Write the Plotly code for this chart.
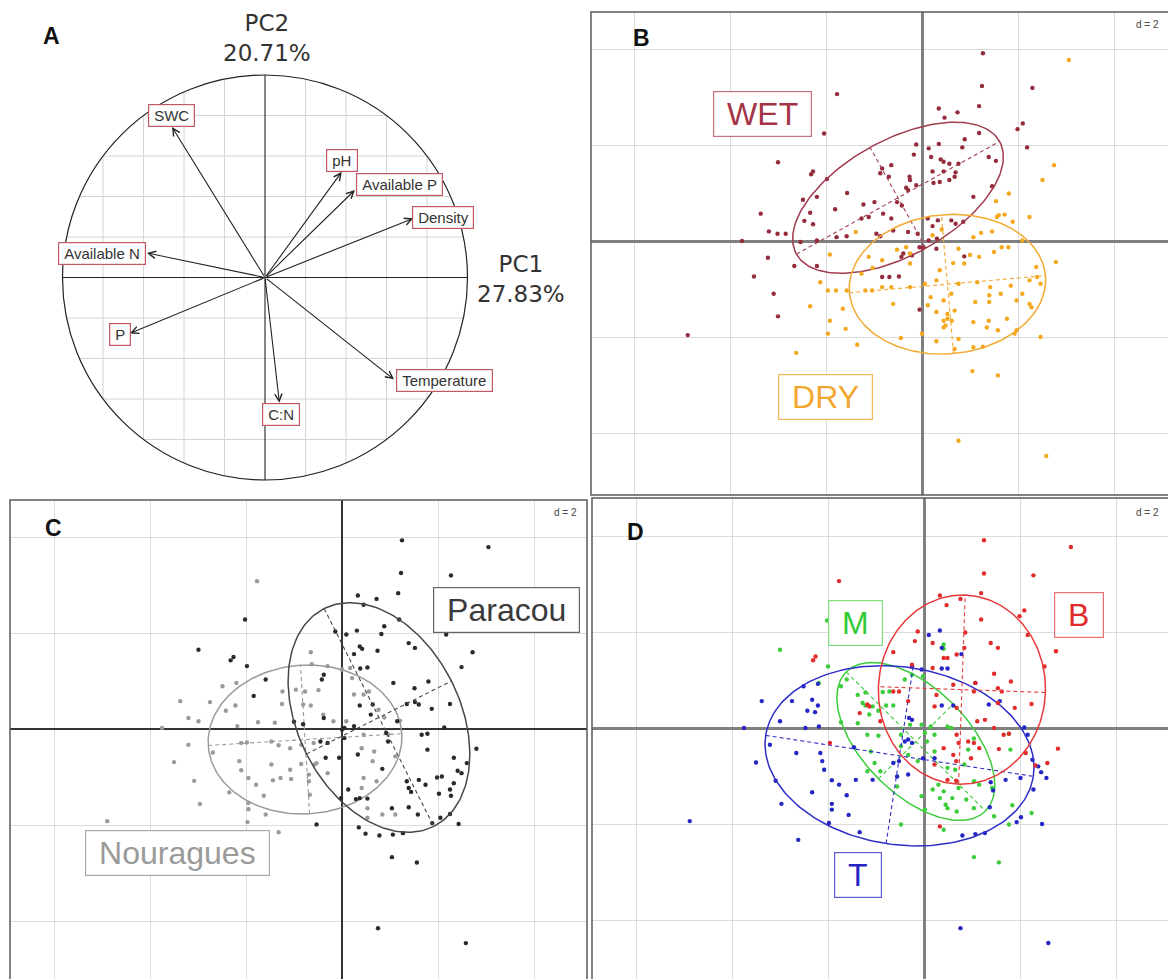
import numpy as np
import plotly.graph_objects as go

W, H = 1168, 979

# ---------------- Panel A : correlation circle ----------------
var_names = ["SWC", "pH", "Available P", "Density", "Available N", "P", "Temperature", "C:N"]
arrow_x = [-0.459, 0.379, 0.444, 0.732, -0.583, -0.667, 0.637, 0.071]
arrow_y = [0.743, 0.522, 0.432, 0.292, 0.121, -0.276, -0.503, -0.618]
label_x = [-0.462, 0.378, 0.662, 0.881, -0.805, -0.716, 0.884, 0.077]
label_y = [0.802, 0.580, 0.457, 0.294, 0.119, -0.279, -0.509, -0.677]
pc1_text = "PC1<br>27.83%"
pc2_text = "PC2<br>20.71%"

# ---------------- Panel B : season ----------------
wet_x = [1.27,-1.77,1.25,2.30,0.35,0.74,1.19,0.47,2.10,1.99,
         -2.04,1.19,0.89,2.19,-0.12,0.14,0.35,0.84,0.19,0.39,
         0.45,0.57,0.76,1.39,1.54,-0.17,-3.00,-2.27,-2.31,-1.98,
         -0.64,-0.83,-0.87,-0.69,-0.26,-0.12,-0.33,-0.29,-0.25,0.22,
         0.45,0.57,0.37,0.24,0.70,0.68,1.07,1.46,-1.56,-2.19,
         -2.48,-1.22,-0.99,-0.52,-0.42,-0.81,-0.64,-1.11,-1.26,-1.81,
         -2.33,-2.45,-2.27,-3.36,-3.19,-3.01,-2.84,-2.19,-2.53,-1.78,
         -1.57,-0.95,-0.87,-0.60,-0.29,-0.09,0.12,0.33,0.22,0.61,
         0.70,0.86,0.31,0.14,-0.05,0.02,0.30,-0.39,-0.21,-0.43,
         0.88,-3.21,-2.66,-2.19,-3.50,-0.83,-0.68,-0.48,-3.09,-3.00,
         -4.88,-0.05,-3.75]
wet_y = [3.91,3.06,3.23,3.19,2.76,2.68,2.81,2.57,2.45,2.33,
         2.24,2.25,2.12,1.95,2.01,1.93,2.02,1.95,1.75,1.70,
         1.65,1.61,1.61,1.75,1.67,1.80,1.64,1.45,1.39,1.29,
         1.58,1.51,1.41,1.34,1.34,1.16,1.11,1.06,1.27,1.45,
         1.45,1.27,1.23,1.21,1.43,1.34,0.92,1.14,1.00,0.92,
         0.86,0.76,0.81,0.81,0.74,0.57,0.47,0.50,0.47,0.66,
         0.59,0.42,0.35,0.57,0.20,0.15,0.15,0.01,-0.02,0.08,
         0.10,0.15,0.10,0.22,0.19,0.15,0.47,0.43,0.31,0.43,
         0.36,0.40,0.05,0.01,-0.13,-0.14,-0.16,-0.26,-0.30,-0.33,
         -0.32,-0.35,-0.52,-0.52,-0.74,-0.75,-0.75,-0.74,-1.10,-1.57,
         -1.96,-1.43,0.00]
dry_x = [3.06,2.75,2.51,1.81,1.54,1.56,2.24,1.89,1.72,1.60,
         0.41,0.22,1.07,1.23,1.46,2.09,1.66,1.80,1.50,1.00,
         1.19,0.76,0.65,0.88,0.37,-0.25,-0.52,-1.11,-0.83,-1.03,
         -1.26,-1.38,-1.92,-2.12,-1.96,-1.79,-1.57,-1.18,-1.04,-0.83,
         -0.64,-0.25,0.06,0.30,0.76,1.15,1.42,1.85,2.24,2.40,
         2.47,2.79,2.38,2.09,1.97,1.64,1.40,1.40,1.11,0.61,
         0.45,0.18,0.12,0.30,0.53,0.45,0.68,0.62,0.49,0.53,
         1.07,1.39,1.58,1.77,1.93,2.24,2.28,2.47,1.97,1.07,
         0.68,1.27,0.76,0.30,0.00,-0.44,-0.60,-1.35,-1.59,-1.96,
         -1.92,-2.33,-1.65,-2.62,1.05,1.58,0.76,2.59,-0.25,0.45,
         -0.33,1.35]
dry_y = [3.77,1.58,1.27,0.99,0.83,0.50,0.50,0.40,0.55,0.54,
         0.24,0.12,0.08,0.17,0.20,0.01,-0.13,-0.13,-0.23,-0.29,
         -0.33,-0.16,-0.46,-0.47,-0.61,-0.47,-0.18,-0.33,-0.40,-0.56,
         -0.68,0.19,-0.28,-0.86,-1.03,-1.03,-1.03,-1.03,-1.03,-0.96,
         -0.96,-0.96,-0.89,-0.82,-0.89,-0.86,-0.96,-0.93,-0.82,-0.75,
         -0.89,-0.44,-0.54,-1.10,-1.24,-1.10,-1.13,-1.27,-1.27,-1.10,
         -1.24,-1.17,-1.34,-1.48,-1.52,-1.66,-1.45,-1.66,-1.76,-1.62,
         -1.69,-1.66,-1.86,-1.62,-1.93,-1.31,-1.38,-2.00,-1.86,-2.21,
         -2.25,-2.20,-2.04,-2.09,-1.93,-2.02,-1.31,-2.16,-1.83,-1.93,
         -1.66,-1.36,-1.41,-2.33,-2.71,-2.80,-4.16,-4.48,-0.26,-1.80,
         -0.13,-1.80]

# ---------------- Panel C : site ----------------
par_x = [1.25,3.05,1.23,2.27,1.17,0.33,0.72,0.45,1.19,0.88,
         2.17,-0.14,0.31,0.09,0.82,1.39,1.52,0.37,0.42,0.74,
         2.72,2.49,0.25,0.38,0.53,-0.42,1.07,1.80,1.51,2.25,
         1.35,1.52,1.60,1.87,0.37,0.64,0.60,-0.38,-1.00,-0.81,
         -1.59,-1.84,-2.02,-2.99,-2.32,-1.98,-2.26,0.25,0.00,0.05,
         2.13,1.66,1.78,0.92,1.15,0.96,1.78,2.80,2.33,2.60,
         2.41,2.49,1.98,2.33,2.08,1.60,1.35,1.39,1.44,1.74,
         2.02,2.25,2.27,0.84,0.13,0.37,0.53,0.29,1.04,1.39,
         1.58,1.88,2.05,2.25,2.43,1.27,1.06,0.78,0.49,0.35,
         -0.53,1.04,1.56,0.75,2.58,-0.30,-0.45,-0.34,-0.06,-0.02,
         -0.38,0.33,0.05]
par_y = [3.93,3.79,3.25,3.20,2.83,2.78,2.71,2.59,2.28,2.14,
         1.97,2.03,2.05,1.97,1.98,1.79,1.69,1.72,1.67,1.63,
         1.60,1.29,1.56,1.26,1.28,1.03,0.96,0.99,0.85,0.52,
         0.52,0.56,0.51,0.42,0.49,0.51,0.30,0.23,0.15,0.10,
         1.03,0.69,2.28,1.65,1.43,1.31,1.50,0.06,-0.01,0.02,
         0.03,-0.12,-0.10,-0.08,0.16,-0.26,-0.43,-0.41,-0.60,-0.71,
         -0.87,-0.92,-1.01,-1.13,-0.99,-1.06,-1.09,-1.23,-1.31,-1.16,
         -1.35,-1.26,-1.39,-0.83,-1.26,-1.44,-1.45,-1.46,-1.65,-1.63,
         -1.78,-1.96,-1.85,-1.77,-1.98,-2.17,-2.20,-2.22,-2.18,-2.05,
         -1.99,-2.67,-2.78,-4.15,-4.46,-0.29,-0.26,-0.60,-0.60,-1.44,
         1.13,-0.53,-0.19]
nou_x = [-1.77,-0.65,-0.63,-0.30,0.00,0.17,0.21,-2.49,-2.20,-1.24,
         -0.96,-0.77,-0.49,-2.75,-2.42,-2.22,-1.25,-0.81,-0.65,-3.37,
         -3.20,-2.99,-2.18,-1.75,-1.40,-0.39,-0.18,0.09,0.25,0.45,
         0.56,0.76,0.88,1.21,-3.75,-2.69,-3.20,-2.10,-1.98,-1.47,
         -1.32,-1.08,-0.85,-0.59,0.41,0.45,0.96,-3.50,-2.14,-2.10,
         -1.47,-1.08,-1.28,-0.85,-0.57,-1.95,-1.79,-1.44,-1.06,-0.69,
         -0.53,0.64,0.67,1.11,-3.08,-2.35,-1.63,-2.96,-1.95,-1.95,
         -1.59,-1.97,-1.32,-4.89,-0.69,-0.67,-0.30,0.45,0.72,0.53,
         0.84,1.11,0.41,0.53]
nou_y = [3.08,1.60,1.35,1.31,1.24,1.27,1.06,0.89,0.96,0.78,
         0.82,0.78,0.81,0.56,0.38,0.49,0.52,0.51,0.49,0.58,
         0.23,0.16,0.06,0.14,0.13,0.30,0.16,0.16,0.72,0.72,
         0.78,0.40,0.24,0.17,0.02,-0.49,-0.33,-0.29,-0.28,-0.26,
         -0.34,-0.40,-0.33,-0.29,-0.40,-0.12,-0.12,-0.69,-0.67,-0.86,
         -0.74,-0.85,-1.02,-0.73,-0.74,-1.02,-1.16,-1.07,-1.04,-0.95,
         -0.71,-0.67,-0.47,-0.57,-1.08,-1.32,-1.39,-1.56,-1.54,-1.67,
         -1.78,-1.94,-2.15,-1.92,-1.09,-1.37,-0.92,-1.02,-1.09,-1.65,
         -1.78,-1.78,-1.23,-1.85]

# ---------------- Panel D : B / M / T ----------------
b_x = [1.25,3.06,-1.77,1.25,2.28,0.33,0.76,1.19,0.47,2.09,
       1.99,1.19,0.86,2.16,-0.13,-0.19,0.18,1.39,1.54,0.84,
       0.41,0.49,0.68,2.75,2.51,-2.26,-2.31,-0.64,-0.25,0.18,
       1.46,1.81,1.07,1.54,1.62,2.24,1.89,1.54,1.04,0.61,
       -0.64,-0.52,-1.34,-1.18,-1.14,-0.91,0.26,0.22,0.68,1.11,
       1.27,1.46,1.66,1.77,0.68,0.92,1.04,1.15,0.72,0.41,
       0.61,0.67,0.98,0.22,2.32,2.57,2.79,0.49,0.67,-1.96,
       0.33,2.12,1.56,-0.33]
b_y = [3.91,3.77,3.06,3.22,3.18,2.76,2.69,2.81,2.56,2.45,
       2.33,2.26,1.99,1.94,2.01,1.81,1.77,1.77,1.67,1.67,
       1.46,1.46,1.53,1.60,1.28,1.49,1.41,1.58,1.32,1.25,
       1.13,0.97,0.94,0.83,0.76,0.50,0.42,0.52,0.76,0.90,
       0.76,0.76,0.31,0.49,0.45,0.14,0.69,0.45,0.42,0.14,
       0.17,0.00,-0.14,-0.12,-0.14,-0.28,-0.31,-0.42,-0.31,-0.42,
       -0.56,-0.69,-0.63,-0.76,-0.78,-0.73,-0.43,-1.08,-1.10,-0.31,
       -2.05,-0.52,-0.44,0.56]
m_x = [-2.02,-3.00,-2.00,-2.19,-1.61,-1.73,-1.38,-1.22,-0.86,-0.72,
       -0.40,-0.25,-0.02,0.41,0.41,-1.22,-1.07,-0.79,-0.64,-0.95,
       -1.28,-1.14,-1.73,-1.38,-1.18,-0.95,-0.48,-0.29,-0.05,0.02,
       0.06,0.14,0.49,0.22,-0.48,-0.33,-0.13,0.22,0.57,0.92,
       1.04,0.84,1.77,1.80,1.42,1.15,1.04,0.65,0.49,0.30,
       0.18,0.41,0.72,0.33,0.49,0.45,0.59,0.88,1.04,0.68,
       -0.05,0.02,0.41,1.46,1.84,2.24,1.77,1.04,1.56,-0.48,
       -0.56,-0.91,-1.18,-1.03,-1.11]
m_y = [2.24,1.63,1.28,0.94,1.01,0.87,0.69,0.74,0.75,0.76,
       1.01,1.11,1.08,1.74,1.65,0.47,0.45,0.47,0.47,0.36,
       0.52,0.28,0.12,0.10,-0.14,-0.16,-0.14,0.07,0.07,-0.10,
       -0.28,0.03,0.03,-0.14,-0.38,-0.56,-0.69,-0.49,0.00,-0.45,
       -0.22,-0.76,-0.12,-0.45,-1.25,-1.18,-1.11,-0.87,-0.83,-1.18,
       -1.28,-1.32,-1.25,-1.46,-1.67,-1.60,-1.46,-1.49,-1.67,-1.74,
       -1.42,-1.70,-2.12,-1.84,-1.61,-1.77,-2.01,-2.69,-2.80,-2.01,
       -1.22,-0.90,-0.90,-0.73,-0.49]
t_x = [0.33,0.10,0.37,0.78,0.37,0.49,-0.25,-0.05,-2.51,-2.21,
       -3.38,-2.75,-2.33,-2.43,-2.27,-2.21,-3.00,-2.47,-2.19,-3.75,
       -0.31,-0.25,0.37,0.61,1.07,1.35,1.58,2.09,2.16,-0.40,
       -0.33,-0.25,-3.21,-2.66,-2.16,-2.12,-2.08,-3.50,-1.46,-3.09,
       -1.92,-1.77,-1.42,-1.07,-0.56,-0.33,-2.33,-1.61,-2.97,-1.92,
       -1.92,-1.57,-1.98,-1.34,-2.62,-4.88,1.37,0.80,1.07,1.27,
       1.93,2.02,2.46,2.28,2.38,2.44,2.55,2.01,1.70,1.39,
       1.44,2.26,0.76,2.59,-0.52,-0.64,-0.02,0.22]
t_y = [2.03,1.94,1.67,1.54,1.24,1.24,1.28,1.22,0.87,0.92,
       0.56,0.56,0.59,0.36,0.33,0.47,0.14,0.00,0.03,0.00,
       0.21,0.17,0.47,0.47,0.94,0.49,0.56,0.01,-0.14,-0.28,
       -0.24,-0.31,-0.35,-0.52,-0.52,-0.69,-0.87,-0.72,-0.40,-1.10,
       -1.09,-1.18,-1.08,-1.08,-1.01,-0.97,-1.34,-1.40,-1.58,-1.58,
       -1.70,-1.81,-1.98,-2.17,-2.33,-1.94,-1.65,-2.24,-2.21,-2.19,
       -1.96,-1.86,-2.00,-1.28,-0.80,-0.92,-1.04,-1.04,-1.08,-1.13,
       -1.30,-0.66,-4.17,-4.48,-0.69,-0.73,-0.63,-0.63]

# ellipse parameters: centre x, centre y, semi-major, semi-minor, angle (deg)
ell_wet = [-0.50, 0.90, 2.42, 1.20, 29.0]
ell_dry = [0.53, -0.90, 2.05, 1.45, 5.0]
ell_par = [0.77, 0.24, 2.54, 1.69, -63.3]
ell_nou = [-0.77, -0.22, 2.02, 1.55, 3.5]
ell_b = [0.79, 0.80, 1.97, 1.74, 88.0]
ell_m = [-0.17, -0.28, 2.05, 1.10, -45.0]
ell_t = [-0.51, -0.58, 2.82, 1.85, -8.7]

# group labels: text, x, y
lab_wet = ["WET", -3.32, 2.64]
lab_dry = ["DRY", -2.01, -3.25]
lab_par = ["Paracou", 3.43, 2.47]
lab_nou = ["Nouragues", -3.43, -2.59]
lab_b = ["B", 3.22, 2.36]
lab_m = ["M", -1.42, 2.19]
lab_t = ["T", -1.375, -3.06]

# ---------------- geometry helpers ----------------
def px(v):
    return v / W

def py(v):
    return 1 - v / H

fig = go.Figure()
annotations = []
shapes = []

# ---- Panel A ----
ax_opts = dict(visible=False, fixedrange=True)
fig.update_layout(
    xaxis=dict(domain=[0, px(584)], range=[(0 - 265) / 202.5, (584 - 265) / 202.5], anchor="y", **ax_opts),
    yaxis=dict(domain=[py(490), 1], range=[(277.5 - 490) / 202.5, 277.5 / 202.5], anchor="x", **ax_opts),
)
gx, gy = [], []
for k in np.arange(-0.8, 0.81, 0.2):
    if abs(k) < 1e-9:
        continue
    s = np.sqrt(1 - k * k)
    gx += [k, k, None, -s, s, None]
    gy += [-s, s, None, k, k, None]
fig.add_trace(go.Scatter(x=gx, y=gy, mode="lines", line=dict(color="#d4d4d4", width=1),
                         hoverinfo="skip", xaxis="x", yaxis="y"))
fig.add_trace(go.Scatter(x=[-1, 1, None, 0, 0], y=[0, 0, None, -1, 1], mode="lines",
                         line=dict(color="#222222", width=1.1), hoverinfo="skip", xaxis="x", yaxis="y"))
shapes.append(dict(type="circle", xref="x", yref="y", x0=-1, x1=1, y0=-1, y1=1,
                   line=dict(color="#222222", width=1.2)))
for nm, tx, ty in zip(var_names, arrow_x, arrow_y):
    annotations.append(dict(x=tx, y=ty, ax=0, ay=0, xref="x", yref="y", axref="x", ayref="y",
                            text="", showarrow=True, arrowhead=5, arrowsize=1.3, arrowwidth=1.1,
                            arrowcolor="#222222", standoff=0, startstandoff=0))
for nm, lx, ly in zip(var_names, label_x, label_y):
    annotations.append(dict(x=lx, y=ly, xref="x", yref="y", text="\u2009" + nm + "\u2009", showarrow=False,
                            bgcolor="white", bordercolor="#C25A66", borderwidth=1.2, borderpad=2,
                            font=dict(family="Liberation Sans, Arial", size=15, color="#333333")))
annotations.append(dict(x=0.01, y=1.183, xref="x", yref="y", text=pc2_text, showarrow=False,
                        font=dict(family="DejaVu Sans", size=23, color="#333333")))
annotations.append(dict(x=1.264, y=-0.009, xref="x", yref="y", text=pc1_text, showarrow=False,
                        font=dict(family="DejaVu Sans", size=23, color="#333333")))
annotations.append(dict(x=-1.052, y=1.193, xref="x", yref="y", text="<b>A</b>", showarrow=False,
                        font=dict(family="Liberation Sans, Arial", size=23, color="#111111")))


# ---- helpers for B/C/D ----
def grid_axis(domain, rng, anchor, zcolor, zwidth):
    return dict(domain=domain, range=rng, anchor=anchor, showgrid=True, gridcolor="#dcdcdc", gridwidth=1,
                tick0=0, dtick=2, zeroline=True, zerolinecolor=zcolor, zerolinewidth=zwidth,
                showticklabels=False, ticks="", showline=False, fixedrange=True)


def ellipse(params, n=200):
    cx, cy, a, b, th = params
    t = np.linspace(0, 2 * np.pi, n)
    c, s = np.cos(np.radians(th)), np.sin(np.radians(th))
    ex = cx + a * np.cos(t) * c - b * np.sin(t) * s
    ey = cy + a * np.cos(t) * s + b * np.sin(t) * c
    axx = [cx - a * c, cx + a * c, None, cx + b * s, cx - b * s]
    axy = [cy - a * s, cy + a * s, None, cy - b * c, cy + b * c]
    return ex, ey, axx, axy


def add_group(xs, ys, params, pcol, ecol, xa, ya):
    fig.add_trace(go.Scatter(x=xs, y=ys, mode="markers", marker=dict(color=pcol, size=4.4),
                             hoverinfo="skip", xaxis=xa, yaxis=ya))
    ex, ey, axx, axy = ellipse(params)
    fig.add_trace(go.Scatter(x=axx, y=axy, mode="lines", line=dict(color=ecol, width=1.1, dash="4px,3px"),
                             hoverinfo="skip", xaxis=xa, yaxis=ya))
    fig.add_trace(go.Scatter(x=ex, y=ey, mode="lines", line=dict(color=ecol, width=1.5),
                             hoverinfo="skip", xaxis=xa, yaxis=ya))


def add_label(lab, tcol, bcol, xr, yr):
    annotations.append(dict(x=lab[1], y=lab[2], xref=xr, yref=yr, text="\u00a0" + lab[0] + "\u00a0",
                            showarrow=False, bgcolor="white", bordercolor=bcol, borderwidth=1.2, borderpad=4,
                            font=dict(family="Liberation Sans, Arial", size=32, color=tcol)))


def add_small(xr, yr, x, y, letter):
    annotations.append(dict(x=x, y=y, xref=xr, yref=yr, text="d = 2", showarrow=False,
                            font=dict(family="Liberation Sans, Arial", size=10, color="#444444")))
    annotations.append(dict(x=letter[1], y=letter[2], xref=xr, yref=yr, text="<b>" + letter[0] + "</b>",
                            showarrow=False, font=dict(family="Liberation Sans, Arial", size=23, color="#111111")))


# ---- Panel B ----
fig.update_layout(
    xaxis2=grid_axis([px(591), 1], [(591 - 922) / 48, (1168 - 922) / 48], "y2", "#808080", 2.5),
    yaxis2=grid_axis([py(495), py(12)], [(241 - 495) / 48, (241 - 12) / 48], "x2", "#808080", 2.5),
)
add_group(wet_x, wet_y, ell_wet, "#952B3C", "#A03C4E", "x2", "y2")
add_group(dry_x, dry_y, ell_dry, "#F4A81E", "#F2AA33", "x2", "y2")
add_label(lab_wet, "#A33446", "#C7707E", "x2", "y2")
add_label(lab_dry, "#F2A830", "#F2B85A", "x2", "y2")
add_small("x2", "y2", 4.69, 4.5, ["B", -5.85, 4.23])
shapes.append(dict(type="rect", xref="paper", yref="paper", x0=px(591), x1=1.05, y0=py(495), y1=py(12),
                   line=dict(color="#5a5a5a", width=1.5)))

# ---- Panel C ----
fig.update_layout(
    xaxis3=grid_axis([px(10), px(587)], [(10 - 342) / 48, (587 - 342) / 48], "y3", "#333333", 1.6),
    yaxis3=grid_axis([0, py(500)], [(729 - 979) / 48, (729 - 500) / 48], "x3", "#333333", 1.6),
)
add_group(nou_x, nou_y, ell_nou, "#9a9a9a", "#9a9a9a", "x3", "y3")
add_group(par_x, par_y, ell_par, "#2a2a2a", "#484848", "x3", "y3")
add_label(lab_par, "#3a3a3a", "#666666", "x3", "y3")
add_label(lab_nou, "#9a9a9a", "#a8a8a8", "x3", "y3")
add_small("x3", "y3", 4.65, 4.52, ["C", -6.02, 4.19])
shapes.append(dict(type="rect", xref="paper", yref="paper", x0=px(10), x1=px(587), y0=-0.05, y1=py(500),
                   line=dict(color="#5a5a5a", width=1.5)))

# ---- Panel D ----
fig.update_layout(
    xaxis4=grid_axis([px(592), 1], [(592 - 924) / 48, (1168 - 924) / 48], "y4", "#808080", 2.5),
    yaxis4=grid_axis([0, py(498)], [(728 - 979) / 48, (728 - 498) / 48], "x4", "#808080", 2.5),
)
add_group(m_x, m_y, ell_m, "#3ccc3c", "#3ccc3c", "x4", "y4")
add_group(t_x, t_y, ell_t, "#2626c4", "#2e2ec8", "x4", "y4")
add_group(b_x, b_y, ell_b, "#e22b2b", "#e63a3a", "x4", "y4")
add_label(lab_m, "#36c936", "#7fdc7f", "x4", "y4")
add_label(lab_b, "#e02a2a", "#e87070", "x4", "y4")
add_label(lab_t, "#2424c4", "#5c5cd0", "x4", "y4")
add_small("x4", "y4", 4.65, 4.5, ["D", -6.02, 4.08])
shapes.append(dict(type="rect", xref="paper", yref="paper", x0=px(592), x1=1.05, y0=-0.05, y1=py(498),
                   line=dict(color="#5a5a5a", width=1.5)))

fig.update_layout(
    width=W, height=H, margin=dict(l=0, r=0, t=0, b=0),
    paper_bgcolor="white", plot_bgcolor="white", showlegend=False,
    annotations=annotations, shapes=shapes,
)

fig.write_html("out.html", config={"displayModeBar": False},
               post_script="document.body.style.margin='0';document.body.style.padding='0';")
